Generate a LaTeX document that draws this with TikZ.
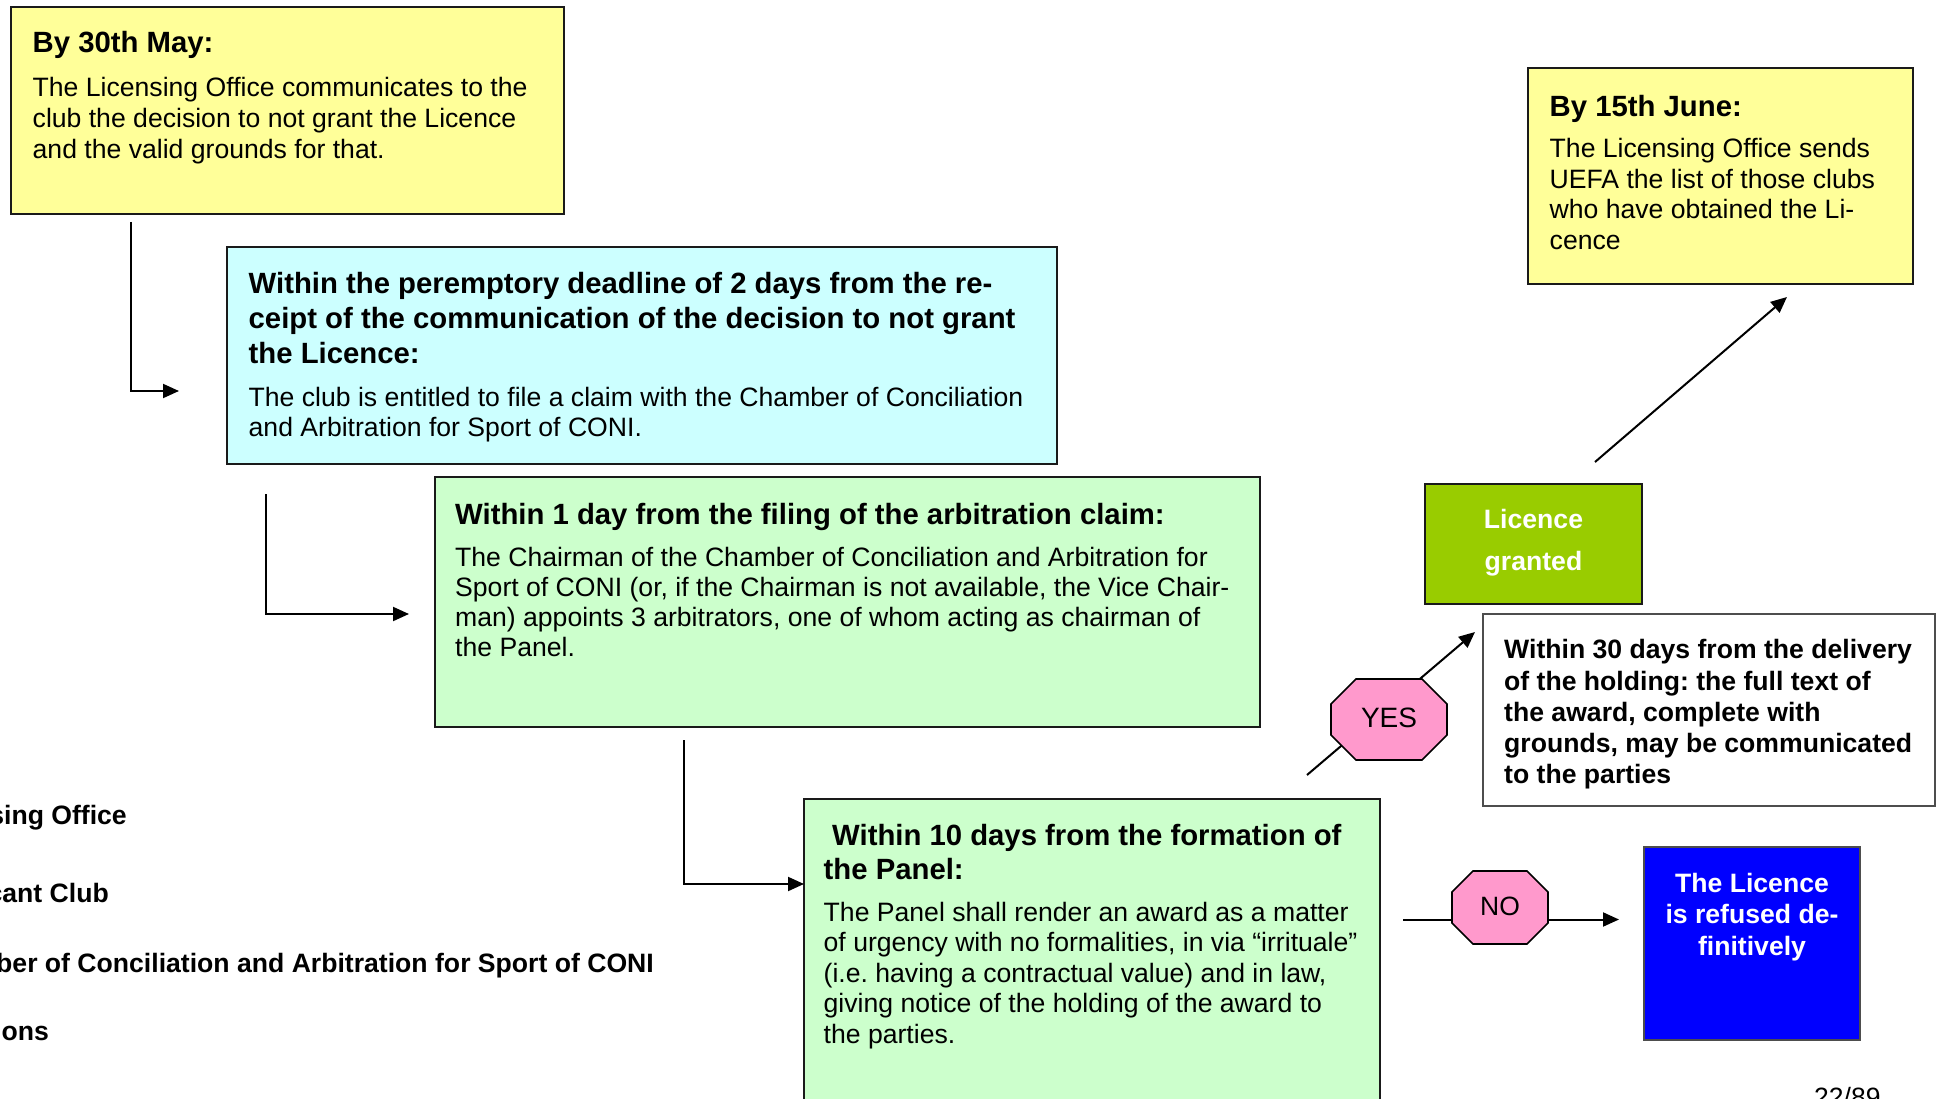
\documentclass[tikz,border=0pt]{standalone}
\usepackage{fontspec}
\setmainfont{Liberation Sans}
\usetikzlibrary{arrows.meta,calc}
\pgfdeclarelayer{background}
\pgfsetlayers{background,main}
\definecolor{cyellow}{HTML}{FFFF99}
\definecolor{ccyan}{HTML}{CCFFFF}
\definecolor{cgreen}{HTML}{CCFFCC}
\definecolor{colive}{HTML}{99CC00}
\definecolor{cblue}{HTML}{0000FF}
\definecolor{cpink}{HTML}{FF99CC}
\definecolor{cborder}{HTML}{1A1A1A}
\definecolor{cgrayb}{HTML}{4D4D4D}
\newcommand\fsz[2]{\fontsize{#1pt}{#2pt}\selectfont}
\newcommand\octpath[2]{%
  \path[octo] ($(#1.north west)+(#2,0pt)$) -- ($(#1.north east)+(-#2,0pt)$)
    -- ($(#1.north east)+(0pt,-#2)$) -- ($(#1.south east)+(0pt,#2)$)
    -- ($(#1.south east)+(-#2,0pt)$) -- ($(#1.south west)+(#2,0pt)$)
    -- ($(#1.south west)+(0pt,#2)$) -- ($(#1.north west)+(0pt,-#2)$) -- cycle;}
\begin{document}
\frenchspacing
\begin{tikzpicture}[x=1pt,y=-1pt,
  box/.style={draw=cborder, line width=2pt, anchor=north west, inner sep=0pt, outer sep=0pt},
  ttl/.style={anchor=base west, inner sep=0pt, align=left, font=\bfseries\fsz{29.3}{35}},
  bod/.style={anchor=base west, inner sep=0pt, align=left, font=\fsz{26.6}{30.5}},
  bbod/.style={anchor=base west, inner sep=0pt, align=left, font=\bfseries\fsz{26.6}{31.25}},
  wtxt/.style={anchor=base, inner sep=0pt, align=center, text=white},
  legend/.style={anchor=base east, inner sep=0pt, font=\bfseries\fsz{26.6}{30}},
  octnode/.style={draw=none, inner sep=0pt, outer sep=0pt},
  octo/.style={draw=black, line width=1.6pt, fill=cpink},
  arr/.style={line width=2pt, draw=black, -{Triangle[length=16pt,width=14pt]}}]
\useasboundingbox (0,0) rectangle (1939,1099);
\clip (0,0) rectangle (1939,1099);

% boxes
\node[box, fill=cyellow, minimum width=553pt, minimum height=207pt] (b1) at (11,7) {};
\node[box, fill=ccyan, minimum width=830pt, minimum height=217pt] (b2) at (227,247) {};
\node[box, fill=cgreen, minimum width=825pt, minimum height=250pt] (b3) at (435,477) {};
\node[box, fill=cgreen, minimum width=576pt, minimum height=330pt] (b4) at (804,799) {};
\node[box, fill=cyellow, minimum width=385pt, minimum height=216pt] (b5) at (1528,68) {};
\node[box, fill=colive, minimum width=217pt, minimum height=120pt] (lg) at (1425,484) {};
\node[box, draw=cgrayb, fill=white, minimum width=452pt, minimum height=192pt] (w30) at (1483,614) {};
\node[box, draw=cgrayb, fill=cblue, minimum width=216pt, minimum height=193pt] (ref) at (1644,847) {};

% texts (multi-line nodes are placed by the baseline of their last line)
\node[ttl] (t1a) at (32.5,53) {By 30th May:};
\node[bod, font=\fsz{26.6}{31.2}] (t1b) at (32.5,158.9) {The Licensing Office communicates to the\\club the decision to not grant the Licence\\and the valid grounds for that.};

\node[ttl] (t2a) at (248.5,363) {Within the peremptory deadline of 2 days from the re-\\ceipt of the communication of the decision to not grant\\the Licence:};
\node[bod] (t2b) at (248.5,436.5) {The club is entitled to file a claim with the Chamber of Conciliation\\and Arbitration for Sport of CONI.};

\node[ttl] (t3a) at (455,524) {Within 1 day from the filing of the arbitration claim:};
\node[bod, font=\fsz{26.6}{30.3}] (t3b) at (455,656.9) {The Chairman of the Chamber of Conciliation and Arbitration for\\Sport of CONI (or, if the Chairman is not available, the Vice Chair-\\man) appoints 3 arbitrators, one of whom acting as chairman of\\the Panel.};

\node[ttl, font=\bfseries\fsz{29.3}{34}] (t4a) at (823.5,879) {\hspace*{8.5pt}Within 10 days from the formation of\\the Panel:};
\node[bod] (t4b) at (823.5,1043) {The Panel shall render an award as a matter\\of urgency with no formalities, in via “irrituale”\\(i.e. having a contractual value) and in law,\\giving notice of the holding of the award to\\the parties.};

\node[ttl] (t5a) at (1549.5,117) {By 15th June:};
\node[bod, font=\fsz{26.6}{30.4}] (t5b) at (1549.5,249.2) {The Licensing Office sends\\UEFA the list of those clubs\\who have obtained the Li-\\cence};

\node[wtxt, font=\bfseries\fsz{26.6}{42}] (lgt) at (1533.5,570.5) {Licence\\granted};
\node[bbod] (w30t) at (1504,783.8) {Within 30 days from the delivery\\of the holding: the full text of\\the award, complete with\\grounds, may be communicated\\to the parties};
\node[wtxt, font=\bfseries\fsz{26.6}{31.2}] (reft) at (1752,955) {The Licence\\is refused de-\\finitively};

% legend (clipped at left edge)
\node[legend] (l1) at (127,824) {sing Office};
\node[legend] (l2) at (109,902) {cant Club};
\node[legend] (l3) at (654,972) {ber of Conciliation and Arbitration for Sport of CONI};
\node[legend] (l4) at (49,1040) {ions};

% page number
\node[anchor=base west, inner sep=0pt, font=\fsz{26.5}{30}] (pg) at (1814,1106) {22/89};

% decision nodes
\node[octnode, minimum width=116pt, minimum height=81pt, font=\fsz{28}{30}] (yes) at (1389,719.5) {\raisebox{3.5pt}{YES}};
\node[octnode, minimum width=96pt, minimum height=73pt, font=\fsz{26.5}{30}] (no) at (1500,907.5) {\raisebox{2pt}{NO}};

% connector end points
\coordinate (a1s) at (131,222);
\coordinate (a1e) at (179,391);
\coordinate (a2s) at (266,494);
\coordinate (a2e) at (409,614);
\coordinate (a3s) at (684,740);
\coordinate (a3e) at (804,884);
\coordinate (a4s) at (1595,462);
\coordinate (a4e) at (1787,297);
\coordinate (a5s) at (1307,775);
\coordinate (a5e) at (1475,632);
\coordinate (a6s) at (1403,919.5);
\coordinate (a6e) at (1619,919.5);

\draw[arr] (a1s) |- (a1e);
\draw[arr] (a2s) |- (a2e);
\draw[arr] (a3s) |- (a3e);
\draw[arr] (a4s) -- (a4e);

\begin{pgfonlayer}{background}
\fill[white] (0,0) rectangle (1939,1099);
\draw[arr] (a5s) -- (a5e);
\draw[arr] (a6s) -- (a6e);
\octpath{yes}{25pt}
\octpath{no}{21pt}
\end{pgfonlayer}
\end{tikzpicture}
\end{document}
